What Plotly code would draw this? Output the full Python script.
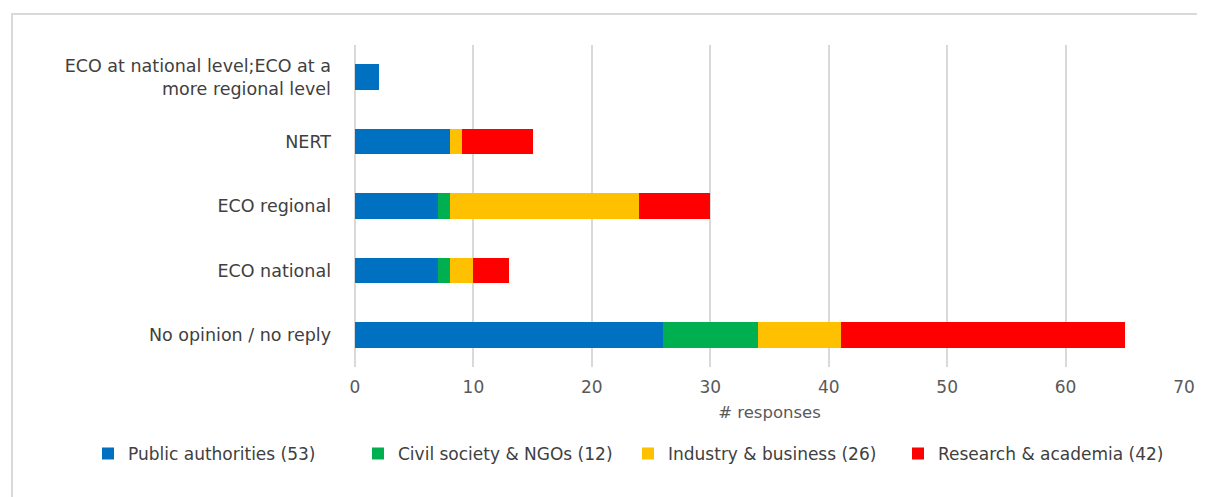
import plotly.graph_objects as go

# categories, top to bottom as shown
categories = [
    "ECO at national level;ECO at a<br>more regional level",
    "NERT",
    "ECO regional",
    "ECO national",
    "No opinion / no reply",
]

series_names = [
    "Public authorities (53)",
    "Civil society & NGOs (12)",
    "Industry & business (26)",
    "Research & academia (42)",
]
public_vals = [2, 8, 7, 7, 26]
civil_vals = [0, 0, 1, 1, 8]
industry_vals = [0, 1, 16, 2, 7]
research_vals = [0, 6, 6, 3, 24]

colors = ["#0070C0", "#00B050", "#FFC000", "#FF0000"]

# page body adds an 8px margin, so the figure is drawn 8px smaller
W, H = 1197, 489
L, T = 347, 37
PW, PH = 829, 322

fig = go.Figure()
for name, vals, col in zip(series_names, [public_vals, civil_vals, industry_vals, research_vals], colors):
    fig.add_trace(go.Bar(
        y=categories, x=vals, name=name, orientation="h",
        marker=dict(color=col, line=dict(width=0)),
        width=0.4,
    ))

fig.update_layout(
    barmode="stack",
    width=W, height=H,
    margin=dict(l=L, r=W - L - PW, t=T, b=H - T - PH, autoexpand=False),
    plot_bgcolor="white",
    paper_bgcolor="white",
    font=dict(family="DejaVu Sans", size=16, color="#404040"),
    legend=dict(
        orientation="h", x=(80 - L) / PW, xanchor="left", y=-0.27, yanchor="middle",
        font=dict(family="DejaVu Sans", size=17, color="#404040"),
        itemwidth=30, entrywidth=225, traceorder="normal",
    ),
    showlegend=True,
)

fig.update_xaxes(
    range=[0, 70], dtick=10, showgrid=True, gridcolor="#d9d9d9", gridwidth=2,
    zeroline=True, zerolinecolor="#d9d9d9", zerolinewidth=2,
    tickfont=dict(size=17, color="#595959"), ticklabelstandoff=8,
    title=dict(text="# responses", font=dict(size=16.5, color="#595959"), standoff=10),
    ticks="", fixedrange=True, automargin=False,
)
fig.update_yaxes(
    autorange="reversed", showgrid=False, ticks="", ticklabelstandoff=23,
    tickfont=dict(size=17.5, color="#404040"), automargin=False,
)

# outer chart frame
fig.add_shape(type="rect", xref="paper", yref="paper",
              x0=(4 - L) / PW, x1=2, y0=-2, y1=1 + (T - 6) / PH,
              line=dict(color="#d9d9d9", width=2), layer="below")

fig.write_html("out.html")
